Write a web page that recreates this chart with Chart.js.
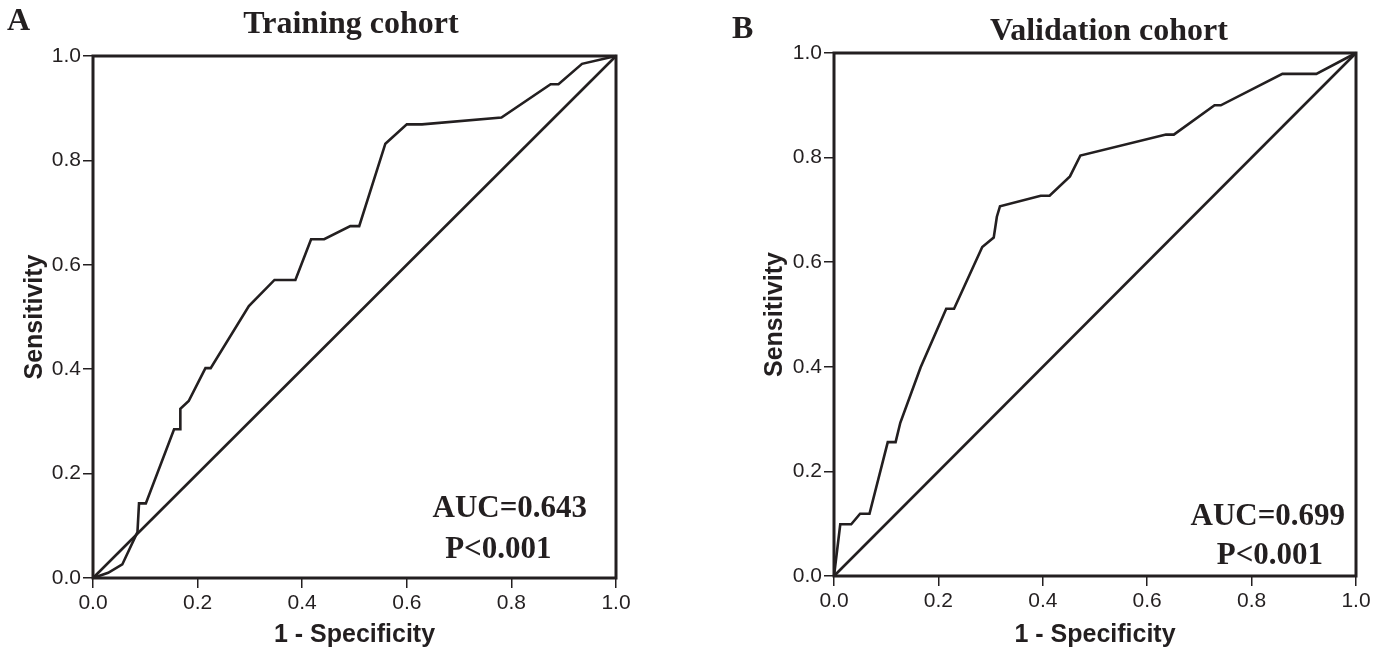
<!DOCTYPE html>
<html>
<head>
<meta charset="utf-8">
<script src="https://cdn.jsdelivr.net/npm/chart.js@4.4.0/dist/chart.umd.min.js"></script>
<style>
  body { margin: 0; background: #fff; }
  #wrap { position: relative; width: 1380px; height: 655px; }
  .panel { position: absolute; top: 0; height: 655px; }
</style>
</head>
<body>
<div id="wrap">
  <div class="panel" style="left:0;width:690px"><canvas id="chartA" width="690" height="655"></canvas></div>
  <div class="panel" style="left:700px;width:680px"><canvas id="chartB" width="680" height="655"></canvas></div>
</div>
<script>
// ROC curve points (1 - specificity, sensitivity)
const trainFpr = [0, 0.029, 0.056, 0.085, 0.088, 0.101, 0.155, 0.167, 0.167, 0.183, 0.215, 0.225, 0.298, 0.347, 0.387, 0.417, 0.442, 0.492, 0.509, 0.559, 0.600, 0.629, 0.781, 0.875, 0.890, 0.935, 1.0];
const trainTpr = [0, 0.010, 0.026, 0.088, 0.143, 0.143, 0.285, 0.285, 0.324, 0.339, 0.402, 0.402, 0.521, 0.571, 0.571, 0.649, 0.649, 0.674, 0.674, 0.832, 0.869, 0.869, 0.882, 0.946, 0.946, 0.985, 1.0];

const validFpr = [0, 0.012, 0.033, 0.050, 0.068, 0.103, 0.118, 0.127, 0.166, 0.215, 0.230, 0.284, 0.306, 0.312, 0.318, 0.396, 0.413, 0.452, 0.472, 0.636, 0.651, 0.729, 0.741, 0.859, 0.924, 1.0];
const validTpr = [0, 0.099, 0.099, 0.119, 0.119, 0.256, 0.256, 0.293, 0.399, 0.511, 0.511, 0.629, 0.647, 0.687, 0.707, 0.727, 0.727, 0.764, 0.804, 0.844, 0.844, 0.900, 0.900, 0.960, 0.960, 1.0];

const refX = [0, 1];
const refY = [0, 1];

const tickValues = [0, 0.2, 0.4, 0.6, 0.8, 1.0];

const ink = '#231f20';
const serif = '"Liberation Serif", "Times New Roman", serif';
const sans = '"Liberation Sans", Arial, sans-serif';

function toPoints(xs, ys) {
  return xs.map((x, i) => ({ x: x, y: ys[i] }));
}

// frame around the plot + panel letter, title and AUC text
const decorPlugin = {
  id: 'decor',
  afterDatasetsDraw(chart, args, opts) {
    const { ctx, chartArea: a, scales } = chart;
    ctx.save();
    ctx.strokeStyle = ink;
    ctx.lineWidth = 3;
    ctx.strokeRect(a.left, a.top, a.right - a.left, a.bottom - a.top);

    ctx.fillStyle = ink;
    ctx.font = 'bold 32px ' + serif;
    ctx.textBaseline = 'alphabetic';
    ctx.textAlign = 'left';
    ctx.fillText(opts.letter, opts.letterX, opts.letterY);
    ctx.textAlign = 'center';
    ctx.fillText(opts.title, opts.titleX, opts.titleY);

    ctx.font = 'bold 31px ' + serif;
    opts.notes.forEach(n => {
      ctx.fillText(n.text, scales.x.getPixelForValue(n.x), scales.y.getPixelForValue(n.y));
    });
    ctx.restore();
  }
};

function makeChart(id, fpr, tpr, cfg) {
  return new Chart(document.getElementById(id), {
    type: 'scatter',
    data: {
      datasets: [
        {
          data: toPoints(fpr, tpr),
          showLine: true,
          borderColor: ink,
          borderWidth: 2.6,
          pointRadius: 0,
          tension: 0,
          clip: false
        },
        {
          data: toPoints(refX, refY),
          showLine: true,
          borderColor: ink,
          borderWidth: 2.6,
          pointRadius: 0,
          clip: false
        }
      ]
    },
    options: {
      responsive: false,
      animation: false,
      events: [],
      layout: { padding: { top: cfg.top, right: cfg.right, bottom: 0, left: 0 } },
      plugins: {
        legend: { display: false },
        tooltip: { enabled: false },
        decor: cfg.decor
      },
      scales: {
        x: {
          type: 'linear',
          min: 0,
          max: 1,
          afterBuildTicks: s => { s.ticks = tickValues.map(v => ({ value: v })); },
          afterFit: s => { s.height = cfg.xh; },
          ticks: {
            callback: v => v.toFixed(1),
            color: ink,
            font: { family: sans, size: 21 },
            padding: 3,
            maxRotation: 0
          },
          grid: { drawOnChartArea: false, tickLength: 10, color: ink, lineWidth: 1.5 },
          border: { display: false },
          title: {
            display: true,
            text: '1 - Specificity',
            color: ink,
            font: { family: sans, size: 25, weight: 'bold' },
            padding: { top: 0, bottom: 5 }
          }
        },
        y: {
          type: 'linear',
          min: 0,
          max: 1,
          afterBuildTicks: s => { s.ticks = tickValues.map(v => ({ value: v })); },
          afterFit: s => { s.width = cfg.yw; },
          ticks: {
            callback: v => v.toFixed(1),
            color: ink,
            font: { family: sans, size: 21 },
            padding: 2
          },
          grid: { drawOnChartArea: false, tickLength: 10, color: ink, lineWidth: 1.5 },
          border: { display: false },
          title: {
            display: true,
            text: 'Sensitivity',
            color: ink,
            font: { family: sans, size: 25, weight: 'bold' },
            padding: { top: cfg.ytp, bottom: 0 }
          }
        }
      }
    },
    plugins: [decorPlugin]
  });
}

makeChart('chartA', trainFpr, trainTpr, {
  top: 56, right: 74, xh: 77, yw: 93, ytp: 20,
  decor: {
    letter: 'A', letterX: 7, letterY: 30,
    title: 'Training cohort', titleX: 351, titleY: 33,
    notes: [
      { text: 'AUC=0.643', x: 0.797, y: 0.117 },
      { text: 'P<0.001', x: 0.775, y: 0.038 }
    ]
  }
});

makeChart('chartB', validFpr, validTpr, {
  top: 53, right: 24, xh: 79, yw: 134, ytp: 60,
  decor: {
    letter: 'B', letterX: 32, letterY: 38,
    title: 'Validation cohort', titleX: 409, titleY: 40,
    notes: [
      { text: 'AUC=0.699', x: 0.831, y: 0.0975 },
      { text: 'P<0.001', x: 0.835, y: 0.023 }
    ]
  }
});
</script>
</body>
</html>
